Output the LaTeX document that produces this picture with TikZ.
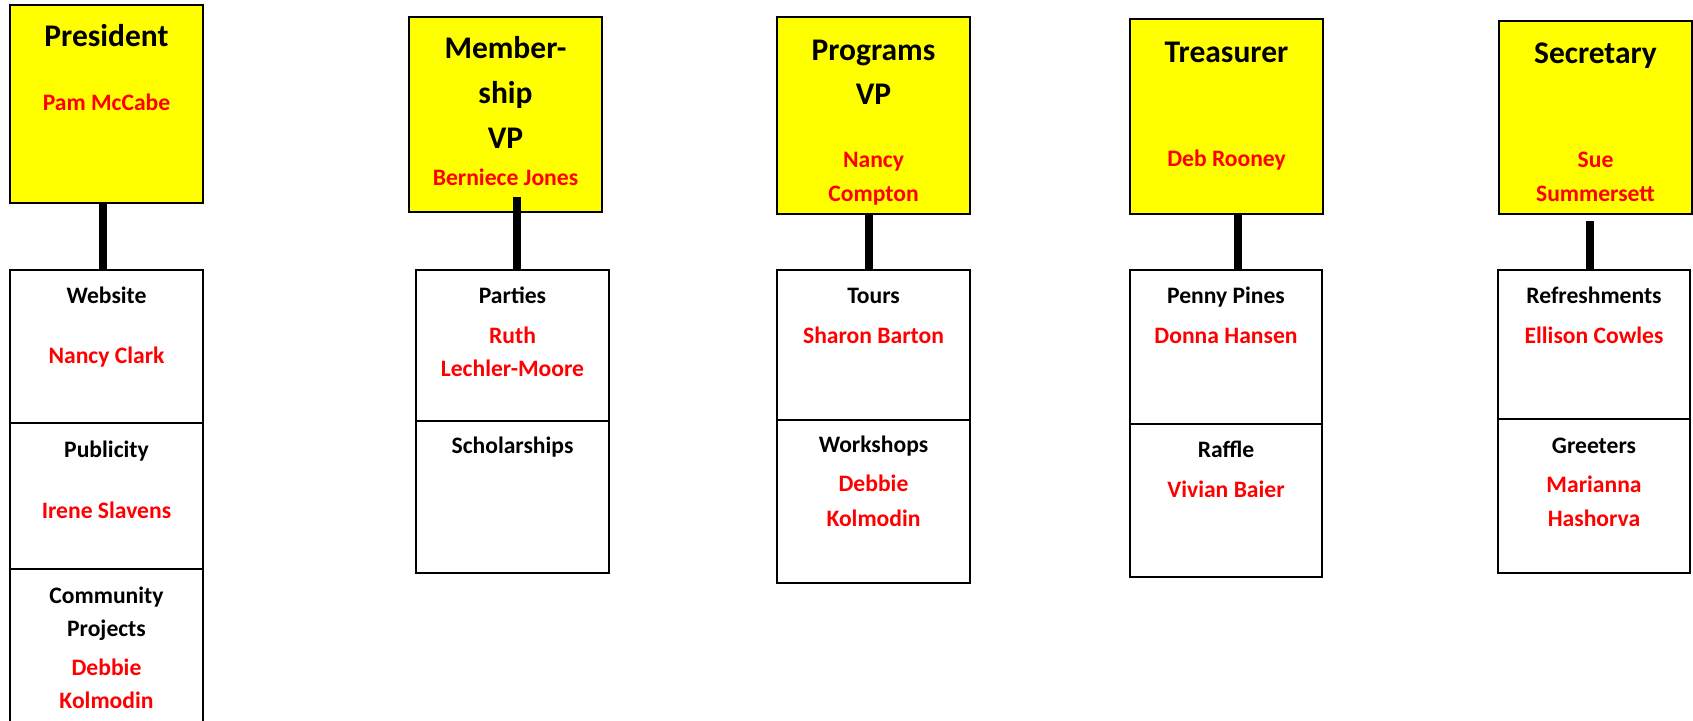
\documentclass[tikz,border=0pt]{standalone}
\usepackage{fontspec}
\setmainfont{Carlito}
\definecolor{boxyellow}{HTML}{FFFF00}
\definecolor{namered}{HTML}{FF0000}

\begin{document}
\begin{tikzpicture}[x=1pt,y=-1pt]
	    \tikzset{
	      office/.style={draw,fill=boxyellow,line width=2pt,inner sep=0pt,minimum width=193pt},
	      duty/.style={draw,line width=2pt,inner sep=0pt,minimum width=193pt},
	      role/.style={anchor=base,font=\bfseries\fontsize{31.5}{38}\selectfont},
	      task/.style={anchor=base,font=\bfseries\fontsize{23.6}{28}\selectfont},
	      who/.style={anchor=base,text=namered,font=\bfseries\fontsize{23.6}{28}\selectfont},
	      link/.style={line width=8.5pt}
	    }
	    \clip (0,0) rectangle (1693,720);
	    \fill[white] (0,0) rectangle (1693,720);
	    % officers
	    \node[office,minimum height=198pt] (pres) at (106.5,104) {};
	    \node[office,minimum height=195pt] (mem) at (505.5,114.5) {};
	    \node[office,minimum height=197pt] (prog) at (873.5,115.5) {};
	    \node[office,minimum height=195pt] (treas) at (1226.5,116.5) {};
	    \node[office,minimum height=193pt] (sec) at (1595.5,117.5) {};
	    % committees
	    \node[duty,minimum height=153pt] (web) at (106.5,346.5) {};
	    \node[duty,minimum height=146pt] (pub) at (106.5,496) {};
	    \node[duty,minimum height=171pt] (comm) at (106.5,654.5) {};
	    \node[duty,minimum height=151pt] (party) at (512.5,345.5) {};
	    \node[duty,minimum height=152pt] (schol) at (512.5,497) {};
	    \node[duty,minimum height=150pt] (tours) at (873.5,345) {};
	    \node[duty,minimum height=163pt] (work) at (873.5,501.5) {};
	    \node[duty,minimum width=192pt,minimum height=154pt] (penny) at (1226,347) {};
	    \node[duty,minimum width=192pt,minimum height=153pt] (raffle) at (1226,500.5) {};
	    \node[duty,minimum width=192pt,minimum height=149pt] (refr) at (1594,344.5) {};
	    \node[duty,minimum width=192pt,minimum height=154pt] (greet) at (1594,496) {};
	    % links
	    \draw[link] ([xshift=-3.5pt]pres.south) -- ([xshift=-3.5pt]web.north);
	    \draw[link] ([xshift=11.5pt,yshift=16pt]mem.south) -- ([xshift=4.5pt]party.north);
	    \draw[link] ([xshift=-4.5pt]prog.south) -- ([xshift=-4.5pt]tours.north);
	    \draw[link] ([xshift=11.5pt]treas.south) -- ([xshift=12pt]penny.north);
	    \draw[link] ([xshift=-5.5pt,yshift=-6pt]sec.south) -- ([xshift=-4pt]refr.north);
	    % President
	    \node[role] (presT) at (106.5,46) {President};
	    \node[who] (presN) at (106.5,110) {Pam McCabe};
	    \node[task] (webT) at (106.5,303) {Website};
	    \node[who] (webN) at (106.5,363) {Nancy Clark};
	    \node[task] (pubT) at (106.5,457) {Publicity};
	    \node[who] (pubN) at (106.5,518) {Irene Slavens};
	    \node[task] (commT) at (106.5,603) {Community};
	    \node[task] (commU) at (106.5,636) {Projects};
	    \node[who] (commN) at (106.5,675) {Debbie};
	    \node[who] (commM) at (106.5,708) {Kolmodin};
	    % Membership VP
	    \node[role] (memT) at (505.5,58) {Member-};
	    \node[role] (memU) at (505.5,103) {ship};
	    \node[role] (memV) at (505.5,148) {VP};
	    \node[who] (memN) at (505.5,185) {Berniece Jones};
	    \node[task] (partyT) at (512.5,303) {Parties};
	    \node[who] (partyN) at (512.5,343) {Ruth};
	    \node[who] (partyM) at (512.5,376) {Lechler-Moore};
	    \node[task] (scholT) at (512.5,453) {Scholarships};
	    % Programs VP
	    \node[role] (progT) at (873.5,60) {Programs};
	    \node[role] (progU) at (873.5,104) {VP};
	    \node[who] (progN) at (873.5,167) {Nancy};
	    \node[who] (progM) at (873.5,201) {Compton};
	    \node[task] (toursT) at (873.5,303) {Tours};
	    \node[who] (toursN) at (873.5,343) {Sharon Barton};
	    \node[task] (workT) at (873.5,452) {Workshops};
	    \node[who] (workN) at (873.5,491) {Debbie};
	    \node[who] (workM) at (873.5,526) {Kolmodin};
	    % Treasurer
	    \node[role] (treasT) at (1226.5,62) {Treasurer};
	    \node[who] (treasN) at (1226.5,166) {Deb Rooney};
	    \node[task] (pennyT) at (1226,303) {Penny Pines};
	    \node[who] (pennyN) at (1226,343) {Donna Hansen};
	    \node[task] (raffleT) at (1226,457) {Raffle};
	    \node[who] (raffleN) at (1226,497) {Vivian Baier};
	    % Secretary
	    \node[role] (secT) at (1595.5,63) {Secretary};
	    \node[who] (secN) at (1595.5,167) {Sue};
	    \node[who] (secM) at (1595.5,201) {Summersett};
	    \node[task] (refrT) at (1594,303) {Refreshments};
	    \node[who] (refrN) at (1594,343) {Ellison Cowles};
	    \node[task] (greetT) at (1594,453) {Greeters};
	    \node[who] (greetN) at (1594,492) {Marianna};
	    \node[who] (greetM) at (1594,526) {Hashorva};
\end{tikzpicture}
\end{document}
